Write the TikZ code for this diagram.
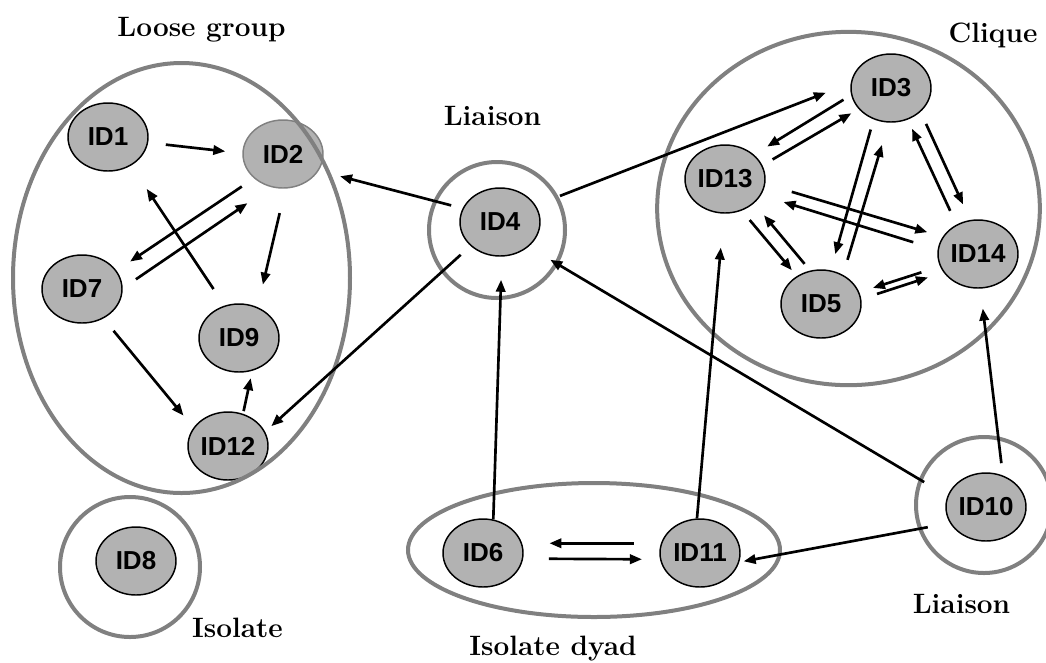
\documentclass[tikz,border=0pt]{standalone}
\usepackage{fontspec}
\newfontfamily\idfont{Liberation Sans}
\usetikzlibrary{shapes.geometric, arrows.meta, positioning, calc}

\begin{document}
\begin{tikzpicture}[x=0.75pt, y=-0.75pt,
        person/.style={ellipse, draw, line width=1.1pt, fill=gray!60, minimum width=60pt, minimum height=51pt, inner sep=0pt, font=\idfont\bfseries\fontsize{19.5}{21}\selectfont},
        grp/.style={ellipse, draw=gray, line width=3pt, inner sep=0pt},
        tag/.style={anchor=base, font=\bfseries\fontsize{21}{25}\selectfont},
        arr/.style={-{Triangle[length=9pt,width=7pt]}, line width=2pt},
        gap/.style 2 args={shorten <=#1, shorten >=#2}]
    \useasboundingbox (0,0) rectangle (1046,662);

    % people
    \node[person] (ID1) at (108,137) {ID1};
    \node[person, draw=gray] (ID2) at (283,154) {ID2};
    \node[person] (ID7) at (82,289) {ID7};
    \node[person] (ID9) at (239,338) {ID9};
    \node[person] (ID12) at (228,446) {ID12};
    \node[person] (ID8) at (136,561) {ID8};
    \node[person] (ID4) at (500,222) {ID4};
    \node[person] (ID3) at (891,88) {ID3};
    \node[person] (ID13) at (725,179) {ID13};
    \node[person] (ID14) at (978,254) {ID14};
    \node[person] (ID5) at (821,304) {ID5};
    \node[person] (ID6) at (483,553) {ID6};
    \node[person] (ID11) at (700,553) {ID11};
    \node[person] (ID10) at (986,507) {ID10};

    % groups
    \node[grp, minimum width=252.75pt, minimum height=322.5pt] (loose) at (181.5,278) {};
    \node[grp, minimum width=102pt, minimum height=102pt] (liaisonA) at (497,230) {};
    \node[grp, minimum width=287pt, minimum height=265pt] (clique) at (848.5,208.5) {};
    \node[grp, minimum width=105pt, minimum height=105pt] (isolate) at (130,567) {};
    \node[grp, minimum width=279pt, minimum height=100.5pt] (dyad) at (594,550) {};
    \node[grp, minimum width=102pt, minimum height=102pt] (liaisonB) at (984,505) {};

    % labels
    \node[tag] (tloose) at (201.5,36) {Loose group};
    \node[tag] (tliaisonA) at (492.5,125) {Liaison};
    \node[tag] (tclique) at (993,42) {Clique};
    \node[tag] (tisolate) at (237.5,637) {Isolate};
    \node[tag] (tdyad) at (553,655) {Isolate dyad};
    \node[tag] (tliaisonB) at (961.5,613) {Liaison};

    % loose group
    \draw[arr, gap={13.3pt}{12.8pt}] (ID1.-8) -- (ID2.179);
    \draw[arr, gap={11pt}{12.2pt}] (ID2.220) -- (ID7.28);
    \draw[arr, gap={12pt}{21.3pt}] (ID7.1) -- (ID2.250);
    \draw[arr, gap={14.9pt}{21pt}] (ID9.114) -- (ID1.-51);
    \draw[arr, gap={18.8pt}{17.3pt}] (ID2.-86) -- (ID9.59);
    \draw[arr, gap={11.9pt}{11.7pt}] (ID7.-54) -- (ID12.152);
    \draw[arr, gap={2pt}{5.6pt}] (ID12.65) -- (ID9.-68);

    % liaisons
    \draw[arr, gap={8.8pt}{16.5pt}] (ID4.160) -- (ID2.-25);
    \draw[arr, gap={9.9pt}{6.2pt}] (ID4.-141) -- (ID12.21);
    \draw[arr, gap={19.5pt}{20pt}] (ID4.25) -- (ID3.173);
    \draw[arr, gap={0pt}{17.3pt}] (ID6.73) -- (ID4.-87);
    \draw[arr, gap={20.3pt}{19pt}] (ID10.164) -- (ID4.-41);
    \draw[arr, gap={16.9pt}{3.3pt}] (ID10.-156) -- (ID11.-13);
    \draw[arr, gap={0pt}{25.5pt}] (ID11.95) -- (ID13.-92);
    \draw[arr, gap={9.2pt}{15pt}] (ID10.62) -- (ID14.-86);

    % dyad
    \draw[arr, gap={20.5pt}{20.5pt}] (ID11.166) -- (ID6.14);
    \draw[arr, gap={19.3pt}{13.5pt}] (ID6.-8) -- (ID11.-171);

    % clique
    \draw[arr, gap={6.7pt}{11.6pt}] (ID3.-170) -- (ID13.40);
    \draw[arr, gap={8.8pt}{6.3pt}] (ID13.20) -- (ID3.-147);
    \draw[arr, gap={7.9pt}{12.5pt}] (ID3.-119) -- (ID5.74);
    \draw[arr, gap={11.7pt}{17.3pt}] (ID5.53) -- (ID3.-94);
    \draw[arr, gap={9.9pt}{12.8pt}] (ID3.-39) -- (ID14.103);
    \draw[arr, gap={11.3pt}{7.5pt}] (ID14.126) -- (ID3.-62);
    \draw[arr, gap={20.7pt}{12pt}] (ID13.-7) -- (ID14.154);
    \draw[arr, gap={19.1pt}{17.6pt}] (ID14.174) -- (ID13.-24);
    \draw[arr, gap={9.2pt}{5.7pt}] (ID13.-62) -- (ID5.131);
    \draw[arr, gap={6.5pt}{11.6pt}] (ID5.108) -- (ID13.-40);
    \draw[arr, gap={14.6pt}{10.7pt}] (ID14.-162) -- (ID5.17);
    \draw[arr, gap={12.4pt}{12.2pt}] (ID5.7) -- (ID14.-152);
\end{tikzpicture}
\end{document}
